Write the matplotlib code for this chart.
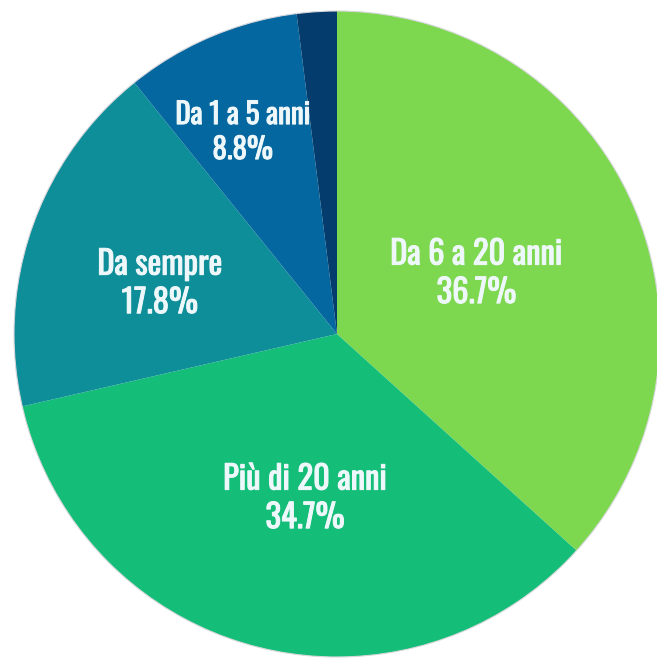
import numpy as np
import matplotlib.pyplot as plt
import matplotlib.patheffects as pe

# slices, clockwise from 12 o'clock
labels = ['Da 6 a 20 anni', 'Più di 20 anni', 'Da sempre', 'Da 1 a 5 anni', '']
shares = [36.7, 34.7, 17.8, 8.8, 2.0]
colors = ['#7dd84f', '#14bd78', '#0e8e98', '#05679f', '#043d6d']

# label placement: radius (fraction), angle nudge (deg), font size
label_r = [0.47, 0.52, 0.57, 0.69, 0.0]
label_dang = [-0.6, 3.6, 3.3, 2.0, 0.0]
label_fs = [23.5, 23.5, 23.5, 21, 0]

TXT = '#eef7fa'

fig = plt.figure(figsize=(6.57, 6.59), dpi=100)
ax = fig.add_axes([0, 0, 1, 1])

wedges, _ = ax.pie(shares, colors=colors, startangle=90, counterclock=False,
                   radius=1.0, wedgeprops=dict(linewidth=0))

R = 323.0   # radius in pixels
cx, cy = 337.0, 334.0   # centre in pixels (from top-left)
ax.set_xlim(-cx / R, (657 - cx) / R)
ax.set_ylim(-(659 - cy) / R, cy / R)
ax.set_aspect('auto')
ax.axis('off')

# thin light rim round the pie
rim = plt.Circle((0, 0), 1.0, fill=False, edgecolor='#d8d8dc', linewidth=0.8)
ax.add_patch(rim)

for w, lab, val, r, da, fs in zip(wedges, labels, shares, label_r, label_dang, label_fs):
    if not lab:
        continue
    mid = np.deg2rad((w.theta1 + w.theta2) / 2 + da)
    x, y = r * np.cos(mid), r * np.sin(mid)
    ax.text(x, y, lab + '\n' + f'{val:.1f}%', ha='center', va='center',
            color=TXT, fontsize=fs, linespacing=1.25,
            family=['Oswald', 'Roboto Condensed', 'DejaVu Sans'],
            path_effects=[pe.withStroke(linewidth=0.7, foreground=TXT)])

fig.savefig('out.png', dpi=100, facecolor='white')
